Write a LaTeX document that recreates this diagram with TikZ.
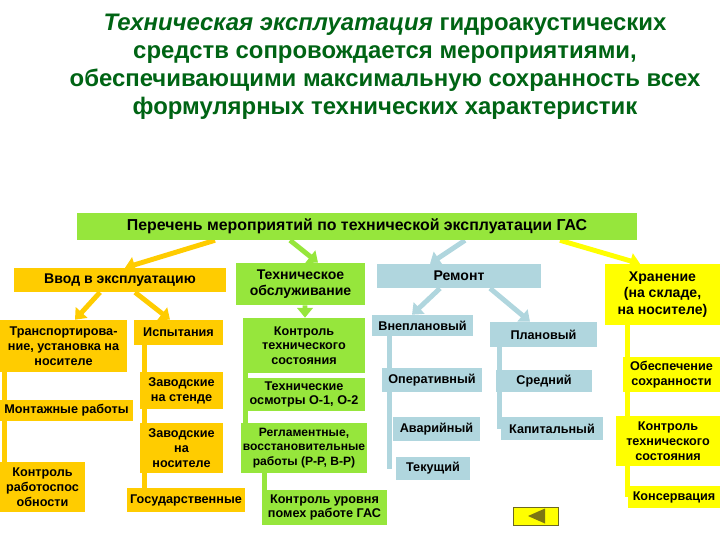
\documentclass[tikz,border=0pt]{standalone}
\usepackage{fontspec}
\setmainfont{Liberation Sans}
\usetikzlibrary{arrows.meta,calc,backgrounds}

\definecolor{grn}{RGB}{150,230,60}
\definecolor{orng}{RGB}{255,204,0}
\definecolor{blu}{RGB}{176,214,222}
\definecolor{yel}{RGB}{255,255,0}
\definecolor{ttlgreen}{RGB}{0,100,20}

\begin{document}
\begin{tikzpicture}[x=0.025cm,y=-0.025cm,
  box/.style={inner sep=1pt,align=center,font=\bfseries\fontsize{9}{10.5}\selectfont},
  topbox/.style={font=\bfseries\fontsize{10}{11.5}\selectfont},
  gbox/.style={box,fill=grn},
  obox/.style={box,fill=orng},
  bbox/.style={box,fill=blu},
  ybox/.style={box,fill=yel},
  arr/.style={line width=3.5pt,-{Triangle[length=7pt,width=11pt]}},
  tree/.style={line width=3.5pt}]
  \useasboundingbox (0,0) rectangle (720,540);

  % title
  \node[align=center,text=ttlgreen,font=\bfseries\fontsize{17}{20}\selectfont] (ttl) at (385,67)
    {\textit{Техническая эксплуатация} гидроакустических\\
     средств сопровождается мероприятиями,\\
     обеспечивающими максимальную сохранность всех\\
     формулярных технических характеристик};

  % main list
  \node[gbox,minimum width=14cm,minimum height=0.675cm,font=\bfseries\fontsize{11.3}{13}\selectfont]
    (perech) at (357,226.5) {Перечень мероприятий по технической эксплуатации ГАС};

  % input into service
  \node[obox,topbox,minimum width=5.3cm,minimum height=0.6cm] (vvod) at (120,280) {Ввод в эксплуатацию};
  \node[obox,minimum width=3.175cm,minimum height=1.3cm] (transp) at (63.5,346)
    {Транспортирова-\\ние, установка на\\носителе};
  \node[obox,minimum width=2.225cm,minimum height=0.625cm] (ispyt) at (178.5,332.5) {Испытания};
  \node[obox,minimum width=2.075cm,minimum height=0.925cm] (zst) at (181.5,390.5) {Заводские\\на стенде};
  \node[obox,minimum width=3.325cm,minimum height=0.525cm] (mont) at (66.5,410.5) {Монтажные работы};
  \node[obox,minimum width=2.075cm,minimum height=1.25cm] (zns) at (181.5,448) {Заводские\\на\\носителе};
  \node[obox,minimum width=2.125cm,minimum height=1.25cm] (krab) at (42.5,487) {Контроль\\работоспос\\обности};
  \node[obox,minimum width=2.95cm,minimum height=0.6cm] (gos) at (186,500) {Государственные};

  % maintenance
  \node[gbox,topbox,minimum width=3.225cm,minimum height=1.05cm] (to) at (300.5,284) {Техническое\\обслуживание};
  \node[gbox,minimum width=3.05cm,minimum height=1.375cm] (kto) at (304,345.5) {Контроль\\технического\\состояния};
  \node[gbox,minimum width=3.05cm,minimum height=0.825cm] (osm) at (304,394.5) {Технические\\осмотры О-1, О-2};
  \node[gbox,minimum width=3.05cm,minimum height=1.25cm,font=\bfseries\fontsize{8.6}{10.5}\selectfont] (regl) at (304,448)
    {Регламентные,\\восстановительные\\работы (Р-Р, В-Р)};
  \node[gbox,minimum width=3.125cm,minimum height=0.875cm] (kpom) at (324.5,507.5) {Контроль уровня\\помех работе ГАС};

  % repair
  \node[bbox,topbox,minimum width=4.1cm,minimum height=0.6cm] (remont) at (459,276) {Ремонт};
  \node[bbox,minimum width=2.525cm,minimum height=0.525cm] (vnepl) at (422.5,325.5) {Внеплановый};
  \node[bbox,minimum width=2.675cm,minimum height=0.625cm] (plan) at (543.5,334.5) {Плановый};
  \node[bbox,minimum width=2.5cm,minimum height=0.6cm] (oper) at (432,380) {Оперативный};
  \node[bbox,minimum width=2.4cm,minimum height=0.55cm] (sred) at (544,381) {Средний};
  \node[bbox,minimum width=2.175cm,minimum height=0.6cm] (avar) at (436.5,429) {Аварийный};
  \node[bbox,minimum width=2.55cm,minimum height=0.575cm] (kap) at (552,428.5) {Капитальный};
  \node[bbox,minimum width=1.85cm,minimum height=0.575cm] (tek) at (433,468.5) {Текущий};

  % storage
  \node[ybox,topbox,minimum width=2.875cm,minimum height=1.525cm] (hran) at (662.5,294.5)
    {Хранение\\(на складе,\\на носителе)};
  \node[ybox,minimum width=2.425cm,minimum height=0.875cm] (obesp) at (671.5,374.5) {Обеспечение\\сохранности};
  \node[ybox,minimum width=2.6cm,minimum height=1.25cm] (kts) at (668,441) {Контроль\\технического\\состояния};
  \node[ybox,minimum width=2.3cm,minimum height=0.55cm] (kons) at (674,497) {Консервация};

  \begin{scope}[on background layer]
    % arrows
    \foreach \a/\sx/\b/\ex/\c in {perech/-142/vvod/5/orng, perech/-67/to/17.5/grn,
        perech/108/remont/-29/blu, perech/203/hran/-22.5/yel,
        vvod/-20/transp/11.5/orng, vvod/15/ispyt/-8.5/orng, to/4.5/kto/1/grn,
        remont/-19/vnepl/-10.5/blu, remont/31/plan/-13.5/blu}
      \draw[arr,\c] ($(\a.south)+(\sx,0)$) -- ($(\b.north)+(\ex,0)$);
    % vertical links
    \foreach \a/\dx/\b/\c in {ispyt/11/gos/orng, transp/5/krab/orng, kto/3/regl/grn,
        regl/23/kpom/grn, vnepl/18/tek/blu, plan/10/kap/blu, hran/23/kons/yel}
      \draw[tree,\c] ($(\a.south west)+(\dx,0)$) coordinate (p) -- (p |- \b.center);
  \end{scope}

  % back button
  \draw[draw=olive!70!black,fill=yel] (513,507) rectangle (558,525);
  \fill[olive!85!black] (528,516) -- (545,508.5) -- (545,523.5) -- cycle;
\end{tikzpicture}
\end{document}
